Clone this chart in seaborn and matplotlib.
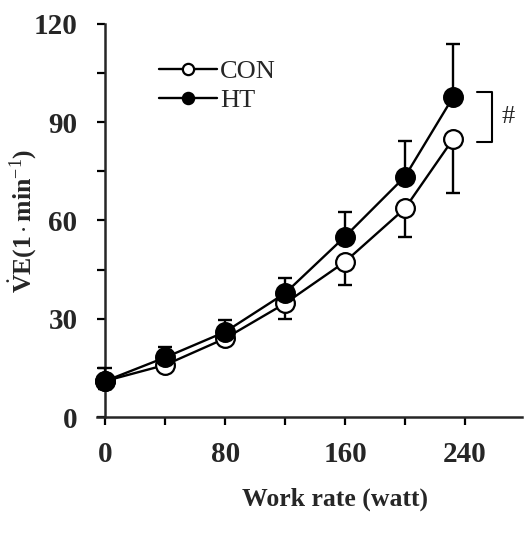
import matplotlib
matplotlib.use("Agg")
import matplotlib.pyplot as plt
import numpy as np
import pandas as pd
import seaborn as sns

# Data
work_rate = [0, 40, 80, 120, 160, 200, 232]
con_ve = [11.0, 15.9, 24.0, 34.7, 47.4, 63.7, 84.8]
con_err = [2.5, 2.0, 2.0, 4.9, 7.1, 8.6, 16.5]
ht_ve = [11.0, 18.2, 26.0, 37.8, 55.1, 73.4, 97.6]
ht_err = [3.9, 3.1, 3.6, 4.7, 7.4, 11.0, 16.4]

sns.set_theme(style="ticks")
plt.rcParams["font.family"] = ["Liberation Serif", "DejaVu Serif"]
plt.rcParams["mathtext.fontset"] = "custom"
plt.rcParams["mathtext.rm"] = "Liberation Serif"
plt.rcParams["mathtext.bf"] = "Liberation Serif:bold"
plt.rcParams["mathtext.it"] = "Liberation Serif:italic"

df = pd.DataFrame({
    "work": work_rate * 2,
    "ve": con_ve + ht_ve,
    "group": ["CON"] * len(work_rate) + ["HT"] * len(work_rate),
})

fig = plt.figure(figsize=(5.25, 5.38), dpi=100)
ax = fig.add_axes([0.185, 0.2249, 0.809, 0.7305])

lw = 1.7
# error bars: CON downward, HT upward
ax.errorbar(work_rate, con_ve, yerr=[con_err, np.zeros(len(con_err))], fmt="none",
            ecolor="black", elinewidth=lw, capsize=4.8, capthick=lw, zorder=2, clip_on=False)
ax.errorbar(work_rate, ht_ve, yerr=[np.zeros(len(ht_err)), ht_err], fmt="none",
            ecolor="black", elinewidth=lw, capsize=4.8, capthick=lw, zorder=4, clip_on=False)

sns.lineplot(data=df[df.group == "CON"], x="work", y="ve", ax=ax, color="black",
             marker="o", markersize=13.5, markerfacecolor="white", markeredgecolor="black",
             markeredgewidth=1.6, linewidth=lw, label="CON", zorder=3, clip_on=False)
sns.lineplot(data=df[df.group == "HT"], x="work", y="ve", ax=ax, color="black",
             marker="o", markersize=13.5, markerfacecolor="black", markeredgecolor="black",
             markeredgewidth=1.6, linewidth=lw, label="HT", zorder=5, clip_on=False)

ax.set_xlim(-5.5, 278)
ax.set_ylim(0, 120)
ax.set_xticks([0, 80, 160, 240])
ax.set_xticks([40, 120, 200], minor=True)
ax.set_yticks([0, 30, 60, 90, 120])
ax.set_yticks([15, 45, 75, 105], minor=True)

ax.spines["top"].set_visible(False)
ax.spines["right"].set_visible(False)
ax.spines["left"].set_position(("data", 0))
ax.spines["left"].set_linewidth(1.8)
ax.spines["bottom"].set_linewidth(1.8)

ax.tick_params(axis="both", which="major", length=6, width=1.6, labelsize=21, color="black")
ax.tick_params(axis="both", which="minor", length=6, width=1.6, color="black")
ax.tick_params(axis="x", which="major", pad=11)
ax.tick_params(axis="y", which="major", pad=14)
for lab in ax.get_xticklabels() + ax.get_yticklabels():
    lab.set_fontweight("bold")

ax.set_xlabel("Work rate (watt)", fontsize=18.5, fontweight="bold")
ax.set_ylabel(r"$\dot{\mathbf{V}}\mathbf{E(1}\cdot\mathbf{min}^{-1}\mathbf{)}$", fontsize=18.5)
ax.xaxis.set_label_coords(0.56, -0.18)
ax.yaxis.set_label_coords(-0.14, 0.5)

# significance bracket
ax.plot([248, 258, 258, 248], [99.3, 99.3, 84.1, 84.1], color="black", lw=1.5, clip_on=False)
ax.text(269, 91.5, "#", fontsize=19, ha="center", va="center")

leg = ax.legend(loc="upper left", bbox_to_anchor=(0.09, 0.97), frameon=False,
                fontsize=19, handlelength=2.2, handletextpad=0.1, labelspacing=0.22,
                markerscale=0.6)

fig.savefig("out.png", dpi=100)
